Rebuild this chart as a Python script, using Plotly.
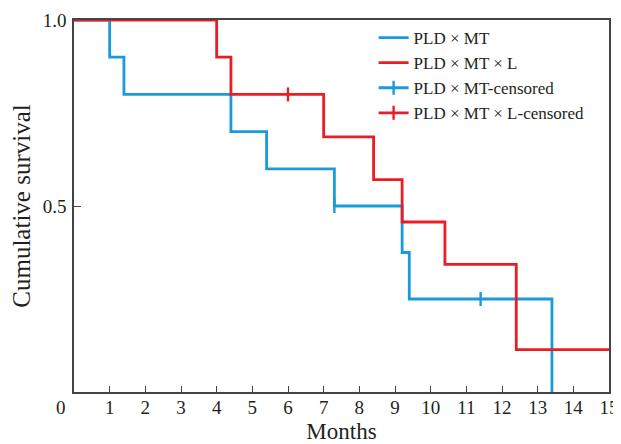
import plotly.graph_objects as go

# Kaplan-Meier step data (months, cumulative survival)
mt_time = [0, 1.0, 1.4, 4.4, 5.4, 7.3, 9.2, 9.4, 13.4]
mt_surv = [1.0, 0.9, 0.8, 0.7, 0.6, 0.5, 0.375, 0.25, 0.0]
mt_cens_time = [7.3, 11.4]
mt_cens_surv = [0.5, 0.25]

mtl_time = [0, 4.0, 4.4, 7.0, 8.4, 9.2, 10.4, 12.4, 15.0]
mtl_surv = [1.0, 0.9, 0.8, 0.686, 0.571, 0.457, 0.343, 0.114, 0.114]
mtl_cens_time = [6.0]
mtl_cens_surv = [0.8]

x_ticks = list(range(1, 16))
y_ticks = [0.5, 1.0]
y_ticktext = ["0.5", "1.0"]

BLUE = "#1a9ad9"
RED = "#ec1c24"
FONT = "Liberation Serif"


def gapped(xs, ys):
    gx, gy = [], []
    for a, b in zip(xs, ys):
        gx += [a, None]
        gy += [b, None]
    return gx[:-1], gy[:-1]


fig = go.Figure()
fig.add_trace(go.Scatter(x=mt_time, y=mt_surv, mode="lines", line_shape="hv",
                         line=dict(color=BLUE, width=2.8), name="PLD × MT"))
fig.add_trace(go.Scatter(x=mtl_time, y=mtl_surv, mode="lines", line_shape="hv",
                         line=dict(color=RED, width=2.8), name="PLD × MT × L"))
cx, cy = gapped(mt_cens_time, mt_cens_surv)
fig.add_trace(go.Scatter(x=cx, y=cy, mode="lines+markers", connectgaps=False,
                         line=dict(color=BLUE, width=2.8),
                         marker=dict(symbol="line-ns", size=10,
                                     line=dict(color=BLUE, width=2.4)),
                         name="PLD × MT-censored"))
cx, cy = gapped(mtl_cens_time, mtl_cens_surv)
fig.add_trace(go.Scatter(x=cx, y=cy, mode="lines+markers", connectgaps=False,
                         line=dict(color=RED, width=2.8),
                         marker=dict(symbol="line-ns", size=10,
                                     line=dict(color=RED, width=2.4)),
                         name="PLD × MT × L-censored"))

# The page body adds an 8px offset, so the figure is sized to fit the window.
fig.update_layout(
    width=613, height=436,
    margin=dict(l=66, r=12, t=12, b=52),
    paper_bgcolor="white", plot_bgcolor="white",
    font=dict(family=FONT, size=19, color="#231f20"),
    showlegend=True,
    legend=dict(x=0.56, y=1.0, xanchor="left", yanchor="top",
                bgcolor="rgba(0,0,0,0)", font=dict(size=17, family=FONT),
                tracegroupgap=0),
    xaxis=dict(range=[0, 15], tickvals=x_ticks, ticks="inside", ticklen=6,
               tickwidth=1.3, tickcolor="#444", showgrid=False, zeroline=False,
               showline=True, linecolor="#444", linewidth=1.5, mirror=True,
               automargin=False, ticklabelstandoff=-3,
               title=dict(text="Months", font=dict(size=23), standoff=7),
               tickfont=dict(size=19)),
    yaxis=dict(range=[0, 1.0], tickvals=y_ticks, ticktext=y_ticktext,
               ticks="inside", ticklen=7, tickwidth=1.3, tickcolor="#444",
               showgrid=False, zeroline=False, showline=True, linecolor="#444",
               linewidth=1.5, mirror=True, automargin=False, ticklabelstandoff=2,
               title=dict(text="Cumulative survival", font=dict(size=25), standoff=6),
               tickfont=dict(size=19)),
    annotations=[dict(text="0", x=0, y=0, xref="paper", yref="paper",
                      xanchor="center", yanchor="middle",
                      xshift=-13, yshift=-15, showarrow=False,
                      font=dict(size=19, family=FONT))],
)

fig.write_html("out.html")
